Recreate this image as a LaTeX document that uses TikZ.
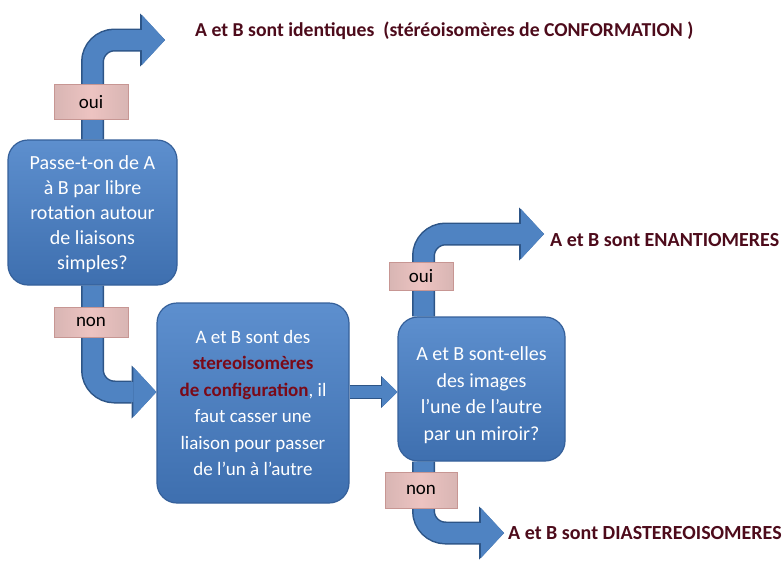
\documentclass[tikz,border=0pt]{standalone}
\usepackage{fontspec}
\setmainfont{Carlito}
\usetikzlibrary{arrows.meta}

\definecolor{boxtop}{HTML}{5D8FCE}
\definecolor{boxbottom}{HTML}{3E6FAF}
\definecolor{boxline}{HTML}{35609A}
\definecolor{flowblue}{HTML}{4F83C2}
\definecolor{flowdark}{HTML}{2D5587}
\definecolor{tagpink}{HTML}{EDC3C1}
\definecolor{tagrim}{HTML}{C79693}
\definecolor{resred}{HTML}{4D0B1B}
\definecolor{keyred}{HTML}{7A0A18}

\newcommand{\motcle}[1]{\textcolor{keyred}{\textbf{#1}}}

\begin{document}
\begin{tikzpicture}[x=1pt, y=-1pt,
    question/.style={rectangle, rounded corners=20pt, draw=boxline, line width=1.2pt,
      top color=boxtop, bottom color=boxbottom, text=white, align=center, inner sep=0pt},
    tag/.style={rectangle, draw=tagrim, line width=1pt, left color=tagrim!70,
      right color=tagrim!70, middle color=tagpink, font=\fontsize{19}{21}\selectfont, inner sep=0pt},
    result/.style={anchor=west, inner sep=0pt, text=resred, font=\bfseries\fontsize{20}{22}\selectfont},
    flowarrow/.style={line width=20pt, draw=flowblue, rounded corners=22pt,
      -{Triangle[length=11pt 0.6, width=30pt 1, line width=0pt]},
      preaction={draw=flowdark, line width=23pt}},
    link/.style={line width=12pt, draw=flowblue,
      -{Triangle[length=8pt 0.6, width=18pt 1, line width=0pt]},
      preaction={draw=flowdark, line width=14pt}}]
    \useasboundingbox (0,0) rectangle (782,560);

    % Boites
    \node[question, minimum width=169pt, minimum height=145pt,
      font=\fontsize{20}{25}\selectfont] (libre) at (92.5, 212.5)
      {\rule{0pt}{18pt}Passe-t-on de A\\ à B par libre\\ rotation autour\\ de liaisons\\ simples?};
    \node[question, minimum width=192pt, minimum height=200pt,
      font=\fontsize{19}{26.5}\selectfont] (config) at (253, 403)
      {A et B sont des\\ \motcle{stereoisomères}\\ \motcle{de configuration}, il\\
       faut casser une\\ liaison pour passer\\ de l’un à l’autre};
    \node[question, minimum width=167pt, minimum height=144pt,
      font=\fontsize{20}{26.5}\selectfont] (miroir) at (481.5, 389)
      {\rule{0pt}{26pt}A et B sont-elles\\ des images\\ l’une de l’autre\\ par un miroir?};

    % Conclusions
    \node[result, font=\bfseries\fontsize{19.7}{22}\selectfont] (identiques) at (195, 31)
      {A et B sont identiques~ (stéréoisomères de CONFORMATION )};
    \node[result] (enantiomeres) at (550, 240) {A et B sont ENANTIOMERES};
    \node[result] (diastereo) at (508, 533) {A et B sont DIASTEREOISOMERES};

    % Fleches
    \draw[flowarrow] (libre.north) |- ([xshift=-30pt, yshift=-9pt]identiques.west);
    \draw[flowarrow] (libre.south) |- ([yshift=11pt]config.west);
    \draw[link] ([yshift=11pt]config.east) -- ([yshift=-3pt]miroir.west);
    \draw[flowarrow] ([xshift=-58pt]miroir.north) |- ([xshift=-6pt, yshift=6pt]enantiomeres.west);
    \draw[flowarrow] ([xshift=-58pt]miroir.south) |- ([xshift=-4pt]diastereo.west);

    % Etiquettes
    \node[tag, minimum width=74pt, minimum height=35pt] (oui1) at (91, 102) {oui};
    \node[tag, minimum width=74pt, minimum height=30pt] (non1) at (91, 322) {non};
    \node[tag, minimum width=64pt, minimum height=28pt] (oui2) at (421, 276) {oui};
    \node[tag, minimum width=72pt, minimum height=36pt] (non2) at (421, 490) {non};
\end{tikzpicture}
\end{document}
